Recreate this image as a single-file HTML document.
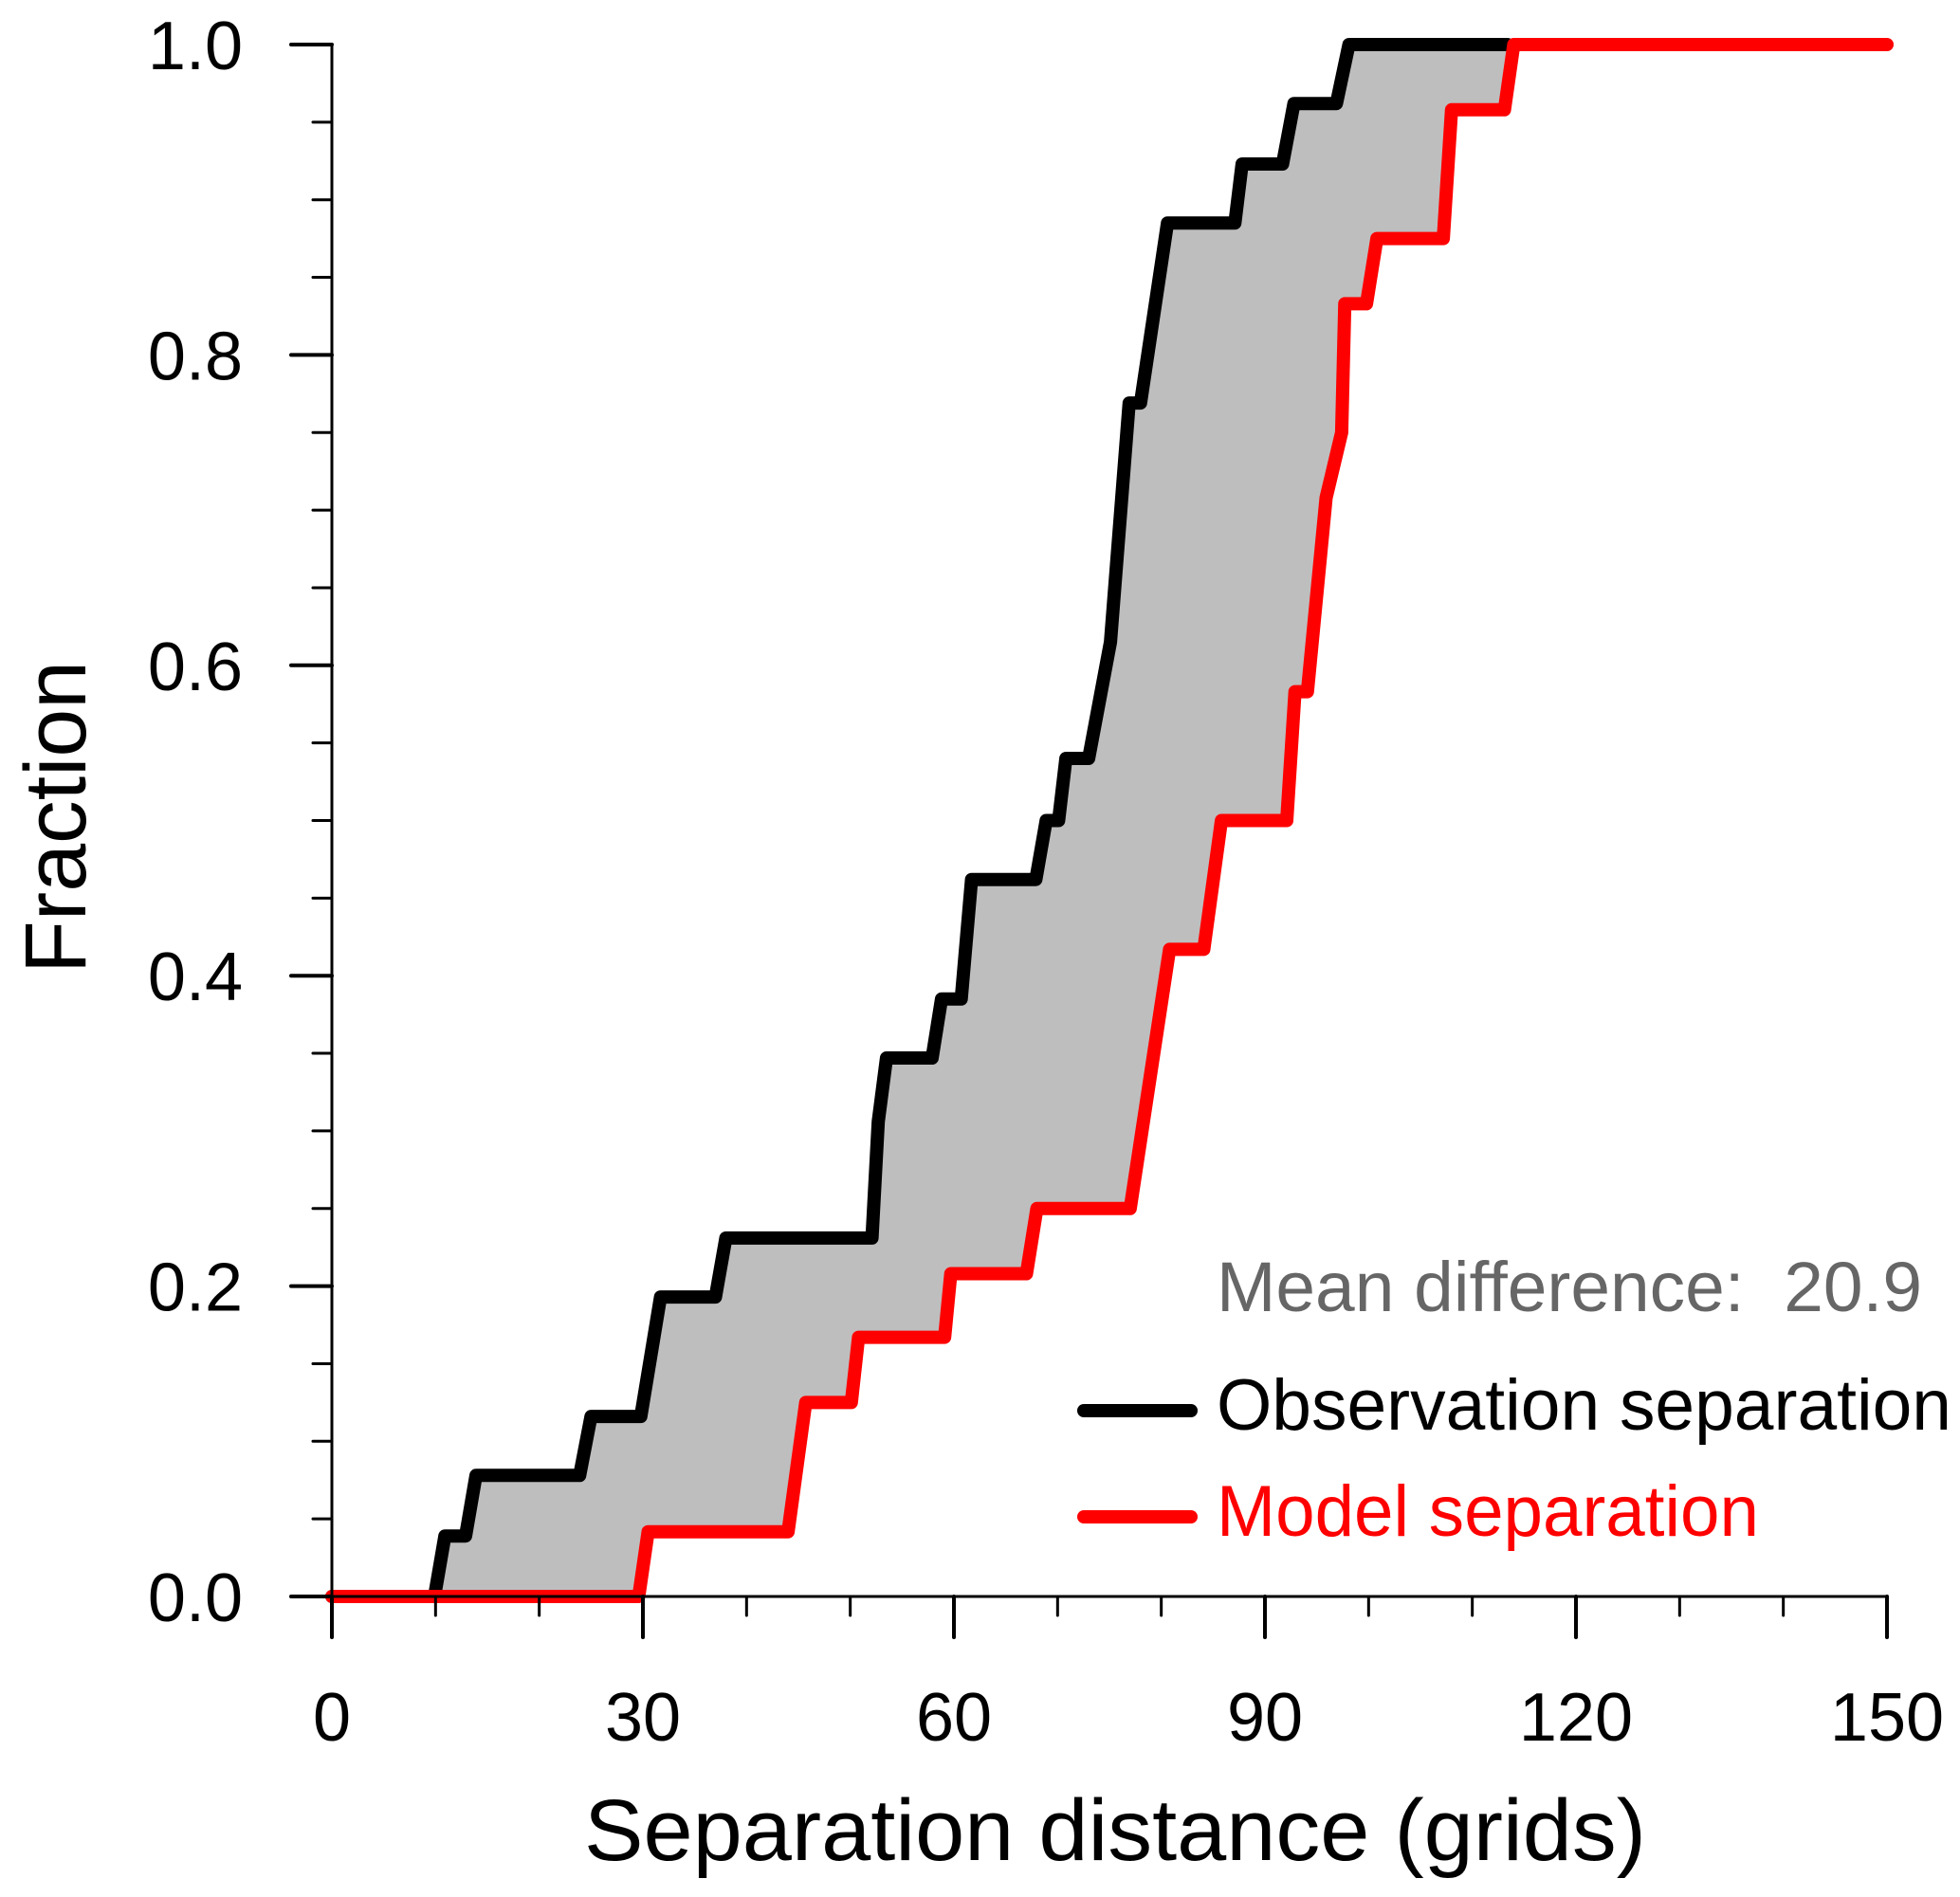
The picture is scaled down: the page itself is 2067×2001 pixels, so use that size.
<!DOCTYPE html>
<html><head><meta charset="utf-8"><style>html,body{margin:0;padding:0;background:#fff}svg{display:block}text{font-family:"Liberation Sans",sans-serif}</style></head>
<body>
<svg id="chart" width="2067" height="2001" viewBox="0 0 2067 2001" xmlns="http://www.w3.org/2000/svg">
<g id="fill"></g>
<g id="lines"></g>
<g id="axes"></g>
<text x="616" y="1962" font-size="92" textLength="1120" lengthAdjust="spacingAndGlyphs">Separation distance (grids)</text>
<text transform="translate(90,1027) rotate(-90)" font-size="92" textLength="330" lengthAdjust="spacingAndGlyphs">Fraction</text>
<text x="1283" y="1383" font-size="74" fill="#666" textLength="744" lengthAdjust="spacingAndGlyphs">Mean difference:&#160; 20.9</text>
<line x1="1143" y1="1488" x2="1256" y2="1488" stroke="#000" stroke-width="14" stroke-linecap="round"/>
<text x="1283" y="1508" font-size="76" textLength="775" lengthAdjust="spacingAndGlyphs">Observation separation</text>
<line x1="1143" y1="1600" x2="1256" y2="1600" stroke="#f00" stroke-width="14" stroke-linecap="round"/>
<text x="1283" y="1620" font-size="76" fill="#f00" textLength="572" lengthAdjust="spacingAndGlyphs">Model separation</text>
</svg>
<script>
const obsX = [0,9.9,10.9,12.9,13.9,23.9,25.0,29.8,31.7,37.0,38.0,52.1,52.7,53.5,57.9,58.8,60.7,61.7,67.9,68.9,70.1,70.8,73.0,75.1,76.9,78.0,80.6,87.1,87.8,91.7,92.8,96.9,98.1,113.4];
const obsY = [0,0,0.039,0.039,0.078,0.078,0.116,0.116,0.193,0.193,0.231,0.231,0.306,0.347,0.347,0.385,0.385,0.462,0.462,0.5,0.5,0.54,0.54,0.615,0.769,0.769,0.885,0.885,0.923,0.923,0.962,0.962,1,1];
const modX = [0,29.6,30.5,44.0,45.7,50.1,50.8,59.1,59.7,67.0,68.0,77.0,80.8,84.1,85.8,92.1,92.9,94.1,94.7,95.9,97.4,97.7,99.8,100.8,107.2,108.0,113.1,114.0,150];
const modY = [0,0,0.0417,0.0417,0.125,0.125,0.167,0.167,0.208,0.208,0.25,0.25,0.417,0.417,0.5,0.5,0.583,0.583,0.625,0.708,0.75,0.833,0.833,0.875,0.875,0.958,0.958,1,1];
const xTicks = [0,30,60,90,120,150];
const yTicks = [0,0.2,0.4,0.6,0.8,1.0];
const yTickLabels = ["0.0","0.2","0.4","0.6","0.8","1.0"];

const NS="http://www.w3.org/2000/svg";
const sx=v=>350+v*(1640/150), sy=v=>1684-v*1637;
function mk(tag,parent,attrs){const e=document.createElementNS(NS,tag);for(const k in attrs)e.setAttribute(k,attrs[k]);parent.appendChild(e);return e;}
const pts=(xs,ys)=>xs.map((x,i)=>sx(x).toFixed(1)+","+sy(ys[i]).toFixed(1));
const fillG=document.getElementById('fill'),linesG=document.getElementById('lines'),axesG=document.getElementById('axes');
const poly=pts(obsX,obsY).concat(pts(modX,modY).reverse());
const fp=mk('polygon',fillG,{points:poly.join(' '),fill:'#bebebe'});


const ya=mk('line',axesG,{x1:350,y1:sy(1),x2:350,y2:sy(0),stroke:'#000','stroke-width':3});


const xa=mk('line',axesG,{x1:sx(0),y1:1684,x2:sx(150),y2:1684,stroke:'#000','stroke-width':3});


for(let v=0;v<=150;v+=10){const major=v%30===0;
 const t=mk('line',axesG,{x1:sx(v),y1:1684,x2:sx(v),y2:1684+(major?43:20),stroke:'#000','stroke-width':major?4:3,'stroke-linecap':'round'});
 
 }
for(let i=0;i<=20;i++){const v=i*0.05,major=i%4===0;
 const t=mk('line',axesG,{x1:350-(major?43:20),y1:sy(v),x2:350,y2:sy(v),stroke:'#000','stroke-width':major?4:3,'stroke-linecap':'round'});
 
 }
xTicks.forEach(v=>{const t=mk('text',axesG,{x:sx(v),y:1836,'font-size':72,'text-anchor':'middle'});t.textContent=String(v);
 
 });
yTicks.forEach((v,i)=>{const t=mk('text',axesG,{x:256,y:sy(v)+26,'font-size':72,'text-anchor':'end'});t.textContent=yTickLabels[i];
 
 });
const lo=mk('polyline',linesG,{points:pts(obsX,obsY).join(' '),fill:'none',stroke:'#000','stroke-width':14,'stroke-linejoin':'round','stroke-linecap':'round'});


const lm=mk('polyline',linesG,{points:pts(modX,modY).join(' '),fill:'none',stroke:'#f00','stroke-width':14,'stroke-linejoin':'round','stroke-linecap':'round'});


</script>
</body></html>
